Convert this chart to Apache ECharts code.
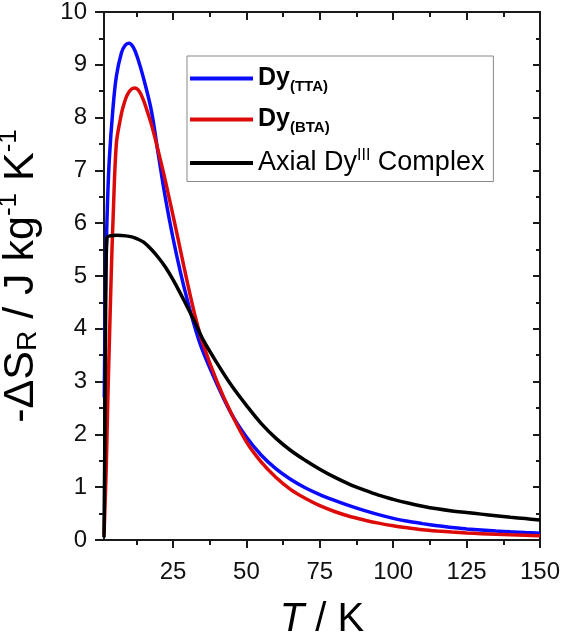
<!DOCTYPE html>
<html>
	<head>
		<meta charset="utf-8">
		<title>-ΔS_R vs T</title>
		<script src="https://cdn.jsdelivr.net/npm/echarts@6/dist/echarts.min.js"></script>
	</head>
	<body style="margin:0;">
		<div id="main" style="width: 563px;height:637px;"></div>
		<script type="text/javascript">
			// 数据
			var seriesNames = ['Dy(TTA)', 'Dy(BTA)', 'Axial DyIII Complex'];

			var ttaT = [1.6, 1.75, 1.95, 2.3, 2.7, 3.3, 4.5, 5.7, 7.4, 8.7, 10, 11.5, 13, 14.8, 17.6, 20, 22.5, 25, 27.5, 30, 32.5, 35, 40, 45, 50, 55, 60, 65, 70, 75, 80, 85, 90, 95, 100, 105, 110, 115, 120, 125, 130, 135, 140, 145, 150];
			var ttaS = [2.7, 3.6, 4.6, 5.6, 6.4, 7.2, 8.14, 8.78, 9.22, 9.37, 9.41, 9.33, 9.12, 8.78, 8.14, 7.3, 6.45, 5.72, 5.08, 4.52, 4.02, 3.6, 2.95, 2.38, 1.95, 1.61, 1.35, 1.15, 0.99, 0.86, 0.75, 0.65, 0.56, 0.48, 0.41, 0.355, 0.31, 0.27, 0.235, 0.21, 0.19, 0.17, 0.155, 0.142, 0.13];

			var btaT = [1.5, 2.0, 2.3, 2.8, 3.4, 4.0, 4.6, 5.7, 7, 8, 9.7, 11.9, 13.5, 15, 16, 17.5, 19.3, 22, 24, 25, 27.5, 30, 32.5, 35, 40, 45, 50, 55, 60, 65, 70, 75, 80, 85, 90, 95, 100, 105, 110, 115, 120, 125, 130, 135, 140, 145, 150];
			var btaS = [0.1, 0.9, 1.45, 2.65, 3.9, 5.1, 6.1, 7.5, 7.95, 8.2, 8.46, 8.56, 8.5, 8.32, 8.16, 7.9, 7.52, 6.9, 6.4, 6.15, 5.5, 4.85, 4.25, 3.75, 3.0, 2.38, 1.86, 1.48, 1.19, 0.96, 0.79, 0.65, 0.54, 0.45, 0.38, 0.32, 0.27, 0.23, 0.195, 0.17, 0.15, 0.133, 0.12, 0.108, 0.098, 0.089, 0.08];

			var axialT = [1.5, 1.8, 2.1, 2.5, 3.5, 6, 9, 11, 13, 15, 17.5, 20, 22.5, 25, 27.5, 30, 32.5, 35, 40, 45, 50, 55, 60, 65, 70, 75, 80, 85, 90, 95, 100, 105, 110, 115, 120, 125, 130, 135, 140, 145, 150];
			var axialS = [0.05, 2.0, 4.6, 5.72, 5.76, 5.77, 5.76, 5.74, 5.70, 5.64, 5.51, 5.35, 5.16, 4.93, 4.67, 4.40, 4.12, 3.82, 3.35, 2.92, 2.55, 2.21, 1.93, 1.70, 1.51, 1.34, 1.19, 1.06, 0.95, 0.85, 0.77, 0.70, 0.64, 0.59, 0.55, 0.52, 0.49, 0.46, 0.43, 0.405, 0.38];

			var xMajor = [25, 50, 75, 100, 125, 150];
			var xMinor = [12.5, 37.5, 62.5, 87.5, 112.5, 137.5];

			function pairs(xs, ys) {
				var out = [];
				for (var i = 0; i < xs.length; i++) {
					out.push([xs[i], ys[i]]);
				}
				return out;
			}

			var font = 'Liberation Sans, Arial, sans-serif';
			var axisColor = '#1a1a1a';

			var legendText = {
				'Dy(TTA)': '{b|Dy}{bs|(TTA)}',
				'Dy(BTA)': '{b|Dy}{bs|(BTA)}',
				'Axial DyIII Complex': '{n|Axial Dy}{sup|III}{n| Complex}'
			};

			// 一条 x 轴只画刻度（主/次刻度分开）
			function xTickAxis(pos, values, len, inside, labels) {
				return {
					type: 'value',
					position: pos,
					min: 1.5,
					max: 150,
					axisLine: {show: true, lineStyle: {color: axisColor, width: 2}},
					axisTick: {show: true, customValues: values, inside: inside, length: len, lineStyle: {color: axisColor, width: 2}},
					axisLabel: labels ? {show: true, customValues: xMajor, color: '#111', fontSize: 24, fontFamily: font, margin: 20} : {show: false},
					splitLine: {show: false}
				};
			}

			var myChart = echarts.init(document.getElementById('main'));
			var option = {
				backgroundColor: '#fff',
				animation: false,
				grid: {left: 104, right: 23, top: 12, bottom: 97, outerBoundsMode: 'none'},
				legend: {
					data: seriesNames,
					orient: 'vertical',
					left: 187,
					top: 56,
					padding: [10, 9, 5, 3],
					itemGap: 13,
					itemWidth: 63,
					itemHeight: 4,
					icon: 'rect',
					borderColor: '#888',
					borderWidth: 1,
					formatter: function (name) {
						return legendText[name];
					},
					textStyle: {
						fontFamily: font,
						color: '#000',
						rich: {
							b: {fontSize: 25, fontWeight: 'bold', fontFamily: font, color: '#000'},
							bs: {fontSize: 15, fontWeight: 'bold', fontFamily: font, color: '#000', padding: [16, 0, 0, 0]},
							n: {fontSize: 27, fontFamily: font, color: '#000'},
							sup: {fontSize: 16, fontFamily: font, color: '#000', padding: [0, 0, 14, 0]}
						}
					}
				},
				xAxis: [
					xTickAxis('bottom', xMajor, 8, false, true),
					xTickAxis('bottom', xMinor, 5, false, false),
					xTickAxis('top', xMajor, 8, true, false),
					xTickAxis('top', xMinor, 5, true, false)
				],
				yAxis: [
					{
						type: 'value',
						min: 0,
						max: 10,
						interval: 1,
						name: '{a|-ΔS}{sub|R}{a| / J kg}{sup|-1}{a| K}{sup|-1}',
						nameLocation: 'middle',
						nameGap: 58,
						nameTextStyle: {
							rich: {
								a: {fontSize: 43, fontFamily: font, color: '#000'},
								sub: {fontSize: 28, fontFamily: font, color: '#000', padding: [15, 0, 0, 0]},
								sup: {fontSize: 26, fontFamily: font, color: '#000', padding: [0, 0, 24, 0]}
							}
						},
						axisLine: {show: true, lineStyle: {color: axisColor, width: 2}},
						axisTick: {show: true, length: 9, lineStyle: {color: axisColor, width: 2}},
						minorTick: {show: true, splitNumber: 2, length: 5, lineStyle: {color: axisColor, width: 2}},
						axisLabel: {color: '#111', fontSize: 24, fontFamily: font, margin: 17},
						splitLine: {show: false}
					},
					{
						type: 'value',
						position: 'right',
						min: 0,
						max: 10,
						interval: 1,
						axisLine: {show: true, lineStyle: {color: axisColor, width: 2}},
						axisTick: {show: true, inside: true, length: 7, lineStyle: {color: axisColor, width: 2}},
						minorTick: {show: true, splitNumber: 2, length: 4, lineStyle: {color: axisColor, width: 2}},
						axisLabel: {show: false},
						splitLine: {show: false}
					}
				],
				series: [
					{
						name: seriesNames[0],
						type: 'line',
						data: pairs(ttaT, ttaS),
						symbol: 'none',
						smooth: 0.35,
						color: '#0a0aff',
						lineStyle: {width: 3.5}
					},
					{
						name: seriesNames[1],
						type: 'line',
						data: pairs(btaT, btaS),
						symbol: 'none',
						smooth: 0.35,
						color: '#dd0a0a',
						lineStyle: {width: 3.5}
					},
					{
						name: seriesNames[2],
						type: 'line',
						data: pairs(axialT, axialS),
						symbol: 'none',
						smooth: 0.35,
						color: '#000000',
						lineStyle: {width: 3.5}
					}
				]
			};
			// x 轴标题 T / K（T 为斜体）
			option.xAxis[0].name = '{i|T}{a| / K}';
			option.xAxis[0].nameLocation = 'middle';
			option.xAxis[0].nameGap = 60;
			option.xAxis[0].nameTextStyle = {
				rich: {
					i: {fontSize: 40, fontStyle: 'italic', fontFamily: font, color: '#000'},
					a: {fontSize: 40, fontFamily: font, color: '#000'}
				}
			};

			myChart.setOption(option);
		</script>
	</body>
</html>
